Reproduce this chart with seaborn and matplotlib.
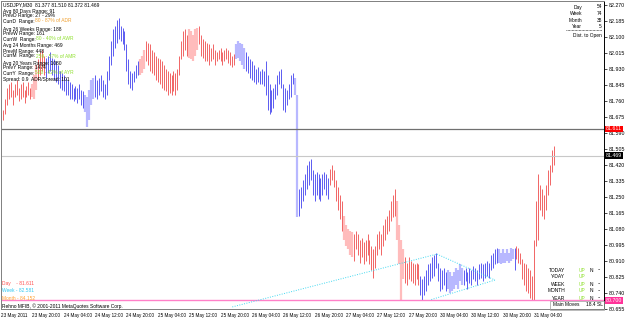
import numpy as np
import pandas as pd
import seaborn as sns
import matplotlib
matplotlib.use("Agg")
import matplotlib.pyplot as plt
from matplotlib.patches import Rectangle

sns.set_style("white")
plt.rcParams['font.family'] = ['Liberation Sans Narrow', 'Liberation Sans', 'DejaVu Sans']

# USDJPY M30 bars (high / low)
highs = [81.70, 81.71, 81.77, 81.83, 81.85, 81.86, 81.82, 81.85, 81.87, 81.83,
         81.85, 81.86, 81.82, 81.84, 81.86, 81.83, 81.85, 81.90, 81.95, 81.98,
         82.02, 82.03, 82.00, 81.99, 82.00, 82.02, 81.99, 81.98, 81.97, 81.95,
         81.92, 81.91, 81.90, 81.88, 81.87, 81.86, 81.85, 81.83, 81.84, 81.83,
         81.85, 81.82, 81.81, 81.79, 81.78, 81.82, 81.87, 81.88, 81.90, 81.87,
         81.88, 81.90, 81.87, 81.85, 81.92, 82.00, 82.08, 82.14, 82.16, 82.19,
         82.20, 82.16, 82.15, 82.13, 82.06, 81.98, 81.92, 81.91, 81.92, 81.95,
         81.97, 81.98, 82.00, 82.03, 82.08, 82.07, 82.06, 82.03, 82.02, 82.00,
         81.99, 81.98, 81.97, 81.95, 81.93, 81.92, 81.91, 81.90, 81.92, 81.91,
         81.93, 82.00, 82.08, 82.13, 82.14, 82.11, 82.14, 82.13, 82.11, 82.14,
         82.15, 82.16, 82.11, 82.09, 82.08, 82.07, 82.06, 82.04, 82.06, 82.03,
         82.02, 82.03, 82.04, 82.02, 82.03, 82.04, 82.03, 82.02, 82.00, 82.01,
         82.06, 82.08, 82.07, 82.06, 82.04, 82.02, 82.00, 81.98, 81.97, 81.95,
         81.93, 81.94, 81.92, 81.93, 81.92, 81.97, 81.90, 81.85, 81.82, 81.83,
         81.85, 81.90, 81.92, 81.93, 81.85, 81.83, 81.82, 81.85, 81.90, 81.91,
         81.88, 81.79, 81.29, 81.30, 81.34, 81.37, 81.42, 81.44, 81.45, 81.39,
         81.37, 81.38, 81.37, 81.35, 81.37, 81.38, 81.37, 81.35, 81.40, 81.42,
         81.39, 81.34, 81.30, 81.26, 81.23, 81.15, 81.10, 81.08, 81.07, 81.06,
         81.05, 81.07, 81.05, 81.02, 81.03, 81.01, 81.02, 81.05, 81.02, 80.99,
         80.97, 80.99, 81.05, 81.07, 81.05, 81.10, 81.13, 81.15, 81.18, 81.23,
         81.26, 81.29, 81.23, 81.10, 81.02, 80.97, 80.93, 80.90, 80.93, 80.91,
         80.90, 80.89, 80.90, 80.89, 80.83, 80.81, 80.83, 80.86, 80.89, 80.90,
         80.93, 80.94, 80.95, 80.90, 80.87, 80.86, 80.87, 80.85, 80.86, 80.85,
         80.83, 80.85, 80.87, 80.86, 80.89, 80.87, 80.86, 80.87, 80.85, 80.87,
         80.86, 80.88, 80.87, 80.86, 80.89, 80.90, 80.89, 80.90, 80.91, 80.90,
         80.94, 80.95, 80.97, 80.98, 80.97, 80.95, 80.97, 80.95, 80.97, 80.95,
         80.98, 80.97, 80.98, 80.99, 80.98, 80.95, 80.92, 80.90, 80.89, 80.87,
         80.86, 80.83, 81.02, 81.23, 81.37, 81.31, 81.29, 81.26, 81.31, 81.39,
         81.42, 81.50, 81.52]
lows = [81.65, 81.66, 81.69, 81.74, 81.77, 81.78, 81.74, 81.78, 81.79, 81.76,
        81.77, 81.78, 81.75, 81.78, 81.79, 81.77, 81.78, 81.77, 81.82, 81.87,
        81.90, 81.92, 81.90, 81.88, 81.91, 81.92, 81.90, 81.87, 81.86, 81.85,
        81.83, 81.82, 81.81, 81.79, 81.79, 81.77, 81.77, 81.76, 81.77, 81.75,
        81.77, 81.74, 81.72, 81.70, 81.62, 81.66, 81.74, 81.77, 81.78, 81.77,
        81.79, 81.81, 81.78, 81.77, 81.79, 81.87, 81.95, 82.00, 82.04, 82.07,
        82.09, 82.08, 82.06, 82.03, 81.92, 81.85, 81.83, 81.82, 81.86, 81.88,
        81.90, 81.90, 81.91, 81.93, 81.97, 81.95, 81.92, 81.91, 81.90, 81.87,
        81.86, 81.85, 81.83, 81.82, 81.81, 81.79, 81.80, 81.79, 81.81, 81.79,
        81.82, 81.90, 81.98, 82.00, 82.03, 82.00, 81.99, 81.98, 81.97, 82.00,
        82.03, 82.06, 82.00, 81.99, 81.97, 81.97, 81.95, 81.97, 81.98, 81.95,
        81.97, 81.98, 81.97, 81.95, 81.97, 81.98, 81.96, 81.95, 81.94, 81.95,
        81.98, 81.99, 81.97, 81.95, 81.93, 81.92, 81.91, 81.88, 81.87, 81.86,
        81.85, 81.86, 81.85, 81.85, 81.84, 81.79, 81.71, 81.69, 81.70, 81.72,
        81.77, 81.79, 81.85, 81.83, 81.71, 81.70, 81.74, 81.77, 81.78, 81.85,
        81.79, 81.14, 81.15, 81.19, 81.23, 81.26, 81.29, 81.31, 81.34, 81.26,
        81.23, 81.26, 81.24, 81.23, 81.26, 81.29, 81.26, 81.24, 81.31, 81.34,
        81.30, 81.23, 81.18, 81.13, 81.07, 81.02, 80.99, 80.97, 80.94, 80.93,
        80.91, 80.97, 80.94, 80.90, 80.93, 80.89, 80.91, 80.94, 80.89, 80.86,
        80.82, 80.87, 80.94, 80.97, 80.94, 80.99, 81.02, 81.05, 81.07, 81.12,
        81.14, 81.15, 81.02, 80.89, 80.70, 80.81, 80.79, 80.78, 80.81, 80.80,
        80.79, 80.78, 80.81, 80.78, 80.73, 80.70, 80.73, 80.75, 80.78, 80.80,
        80.82, 80.83, 80.87, 80.80, 80.75, 80.76, 80.78, 80.75, 80.76, 80.74,
        80.75, 80.76, 80.78, 80.76, 80.80, 80.78, 80.78, 80.80, 80.76, 80.79,
        80.78, 80.81, 80.80, 80.78, 80.81, 80.82, 80.80, 80.82, 80.83, 80.82,
        80.86, 80.87, 80.89, 80.90, 80.90, 80.89, 80.90, 80.90, 80.91, 80.90,
        80.91, 80.92, 80.86, 80.92, 80.90, 80.89, 80.81, 80.78, 80.75, 80.74,
        80.71, 80.70, 80.70, 80.99, 81.02, 81.18, 81.15, 81.13, 81.18, 81.26,
        81.31, 81.38, 81.42]
# B = bull bar, b = bull inside (light), R = bear bar, r = bear inside (light)
kinds = ("RRRRRRRRRRRRRRRR" "rrr" "RRRR" "BBBBBBBBBBBBBBBBBBBB" "bbbbb"
         "BBBBBBBBBBBBBBBBBBBBBBB" "rrr" "RRRRRRRRRRRRRRRRRRRRRR" "rrrrr"
         "RRRRRRRRRRRRRRRRRRR" "bbbbb" "BBBBBBBBBBBBBBBBBBBBBBBBB" "bb"
         "BBBBBBBBBBBBBBBB" "RRRRRRR" "rrrrr" "RRRRRRRRRRRRRRRRRRRRRR" "rrrr"
         "RRRRRRRR" "BBBBBBBBBBBBBB" "bbbbbbbb" "BBBBBBBBBBBBBBBBBB" "bbbbbbbb"
         "B" "RRRRRRRRRRRRRRRRRRRR")

tick_bars = [0, 16, 32, 48, 64, 80, 96, 112, 128, 144, 160, 176, 192, 208, 224, 240, 256, 272]
tick_labels = ["23 May 2011", "23 May 20:00", "24 May 04:00", "24 May 12:00", "24 May 20:00",
               "25 May 04:00", "25 May 12:00", "25 May 20:00", "26 May 04:00", "26 May 12:00",
               "26 May 20:00", "27 May 04:00", "27 May 12:00", "27 May 20:00", "30 May 04:00",
               "30 May 12:00", "30 May 20:00", "31 May 04:00"]
price_ticks = [82.270, 82.185, 82.100, 82.015, 81.930, 81.845, 81.760, 81.675, 81.590,
               81.505, 81.420, 81.335, 81.250, 81.165, 81.080, 80.995, 80.910, 80.825,
               80.740, 80.655]

day_open = 81.611
bid = 81.469
low_level = 80.700

# trendlines (bar, price)
trend_bars = [[118.0, 222.4], [222.4, 252.0], [252.0, 218.9]]
trend_prices = [[80.664, 80.945], [80.945, 80.807], [80.807, 80.701]]

df = pd.DataFrame({"bar": np.arange(len(highs)), "high": highs, "low": lows,
                   "kind": list(kinds[:len(highs)])})

W, H = 625, 319
fig = plt.figure(figsize=(W / 100, H / 100), dpi=100)
fig.patch.set_facecolor("white")
ax = fig.add_axes([1 / W, 10 / H, 603 / W, 308 / H])
ax.set_facecolor("white")

colors = {"B": "#5050f0", "b": "#b8b8ff", "R": "#f05a5a", "r": "#ffbcbc"}
widths = {"B": 0.65, "b": 1.6, "R": 0.65, "r": 1.6}
for k in "brBR":
    d = df[df["kind"] == k]
    ax.vlines(d["bar"], d["low"], d["high"], color=colors[k], lw=widths[k])

ax.axhline(day_open, color="#707070", lw=0.9)
ax.axhline(bid, color="#c8c8c8", lw=0.8)
ax.axhline(low_level, color="#ff80c8", lw=1.0)

for xs, ys in zip(trend_bars, trend_prices):
    ax.plot(xs, ys, color="#40d8f0", lw=0.7, ls=(0, (1, 1.5)))

ax.set_xlim(0, 603 / 1.96)
ax.set_ylim(80.653, 82.291)

ax.yaxis.tick_right()
ax.set_yticks(price_ticks)
ax.set_yticklabels([f"{p:.3f}" for p in price_ticks])
ax.set_xticks(tick_bars)
ax.set_xticklabels(tick_labels)
for lb in ax.get_xticklabels():
    lb.set_horizontalalignment("left")
ax.tick_params(axis="both", length=2, width=0.5, pad=1, colors="black", direction="out")
ax.tick_params(axis="x", labelsize=3.3)
ax.tick_params(axis="y", pad=1.5, labelsize=3.8)
for s in ax.spines.values():
    s.set_color("#808080")
    s.set_linewidth(0.7)
ax.spines["right"].set_color("black")

renderer = fig.canvas.get_renderer()


def ftxt(x, y, s, **kw):
    kw.setdefault("fontsize", 3.5)
    kw.setdefault("va", "center")
    kw.setdefault("color", "black")
    return fig.text(x / W, 1 - y / H, s, **kw)


def two_tone(y, black, colored, col):
    t = ftxt(3, y, black)
    x1 = t.get_window_extent(renderer=renderer).x1
    ftxt(x1 + 0.5, y, colored, color=col)


# info block top left
ftxt(3, 5, "USDJPY,M30  81.377 81.510 81.372 81.469")
ftxt(3, 11, "Avg 80 Days Range: 91")
ftxt(3, 16, "PrevD Range: 27 - 29%")
two_tone(21, "CurrD  Range:", "80 - 87% of ADR", "#f0a030")
ftxt(3, 29, "Avg 26 Weeks Range: 188")
ftxt(3, 34, "PrevW Range: 161")
two_tone(39, "CurrW  Range:", "80 - 40% of AWR", "#90e030")
ftxt(3, 46, "Avg 24 Months Range: 469")
ftxt(3, 51, "PrevM Range: 448")
two_tone(56, "CurrM  Range:", "259 - 57% of AMR", "#90e030")
ftxt(3, 63, "Avg 20 Years Range: 1080")
ftxt(3, 68, "PrevY Range: 1474")
two_tone(73, "CurrY  Range:", "520 - 42% of AYR", "#90e030")
ftxt(3, 80, "Spread: 0.9  ADR/Spread: 101")

# top right counters
for y, lab, val in [(7, "Day", "54"), (13.5, "Week", "74"), (20, "Month", "38"), (26.5, "Year", "5")]:
    ftxt(582, y, lab, ha="right")
    ftxt(602, y, val, ha="right")
fig.lines.append(plt.Line2D([566 / W, 602 / W], [1 - 30 / H, 1 - 30 / H], transform=fig.transFigure,
                            color="black", lw=0.5, ls=(0, (1, 1))))
ftxt(602, 35, "Dist. to Open", ha="right")

# bottom right direction table
for y, lab, nn in [(270, "TODAY", True), (277, "Y-DAY", False), (284, "WEEK", True),
                   (291, "MONTH", True), (298, "YEAR", True)]:
    ftxt(565, y, lab, ha="right")
    ftxt(579, y, "UP", color="#90e030")
    if nn:
        ftxt(590, y, "N")
        ftxt(598, y, "--")
fig.patches.append(Rectangle((550 / W, 1 - 310 / H), 54 / W, 9 / H, transform=fig.transFigure,
                             fill=False, edgecolor="#a0a0a0", lw=0.5))
ftxt(553, 305, "Main Moves")
ftxt(603, 305, "18.4 SL", ha="right")

# bottom left levels
ftxt(2, 284, "Day    - 81.611", color="#ff5050")
ftxt(2, 291, "Week - 82.581", color="#30c8f0")
ftxt(2, 298, "Month - 84.152", color="#ffa030")
ftxt(2, 306, "Rehno MFIB, \u00a9 2001-2011 MetaQuotes Software Corp.")

# price labels on the axis
for p, bg in [(day_open, "#ff0000"), (bid, "#000000"), (low_level, "#ff3399")]:
    y = (82.2966 - p) * 188
    ftxt(606, y, f"{p:.3f}", color="white", fontsize=3.8,
         bbox=dict(facecolor=bg, edgecolor="none", pad=0.6))

fig.savefig("out.png", dpi=100, facecolor="white")
